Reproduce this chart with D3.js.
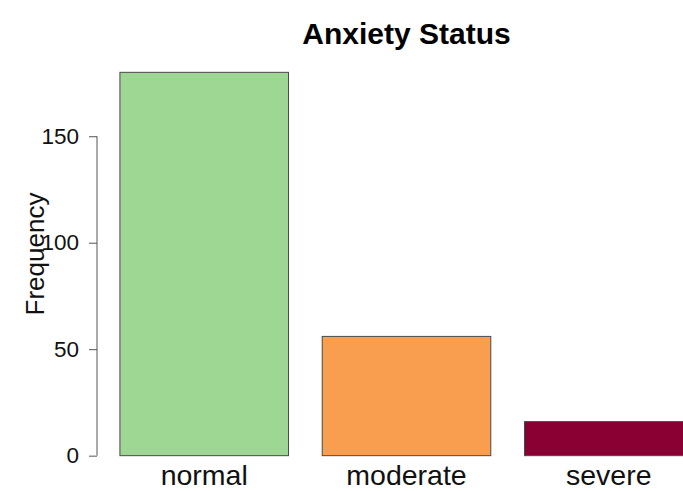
<!DOCTYPE html>
<html>
<head>
<meta charset="utf-8">
<script src="https://cdn.jsdelivr.net/npm/d3@7"></script>
<style>
  html, body { margin: 0; padding: 0; background: #fff; }
  svg { display: block; font-family: "Liberation Sans", Arial, Helvetica, sans-serif; }
</style>
</head>
<body>
<svg id="chart" width="683" height="491"></svg>
<script>
// ---- data ----
const categories = ["normal", "moderate", "severe"];
const frequencies = [180, 56, 16];
const barColors = ["#9dd793", "#f99e4e", "#8a0033"];
const yTickValues = [0, 50, 100, 150];
const chartTitle = "Anxiety Status";
const yLabel = "Frequency";

// ---- layout (R barplot style: width 1, space 0.2) ----
const svg = d3.select("#chart");
const barWidth = 1, space = 0.2;
const lefts = categories.map((c, i) => space + i * (barWidth + space));
const xMin = space, xMax = space + categories.length * (barWidth + space) - space;
const xExt = (xMax - xMin) * 0.04;
const yMaxData = d3.max(frequencies);
const yExt = yMaxData * 0.04;

const plot = { left: 97, right: 716, top: 57, bottom: 471 };

const x = d3.scaleLinear().domain([xMin - xExt, xMax + xExt]).range([plot.left, plot.right]);
const y = d3.scaleLinear().domain([-yExt, yMaxData + yExt]).range([plot.bottom, plot.top]);

// bars
svg.append("g").selectAll("rect")
  .data(categories)
  .join("rect")
  .attr("x", (d, i) => x(lefts[i]))
  .attr("width", (d, i) => x(lefts[i] + barWidth) - x(lefts[i]))
  .attr("y", (d, i) => y(frequencies[i]))
  .attr("height", (d, i) => y(0) - y(frequencies[i]))
  .attr("fill", (d, i) => barColors[i])
  .attr("stroke", "#4a4a4a")
  .attr("stroke-width", 1);

// category labels
svg.append("g").selectAll("text")
  .data(categories)
  .join("text")
  .attr("x", (d, i) => x(lefts[i] + barWidth / 2))
  .attr("y", 485)
  .attr("text-anchor", "middle")
  .attr("font-size", 28.5)
  .attr("fill", "#111")
  .text(d => d);

// y axis
const yAxis = d3.axisLeft(y).tickValues(yTickValues).tickSize(8).tickPadding(10);
const gy = svg.append("g").attr("transform", `translate(${plot.left},0)`).call(yAxis);
gy.select(".domain").remove();
gy.append("line")
  .attr("x1", 0).attr("x2", 0)
  .attr("y1", y(yTickValues[0])).attr("y2", y(yTickValues[yTickValues.length - 1]))
  .attr("stroke", "#555").attr("stroke-width", 1);
gy.selectAll(".tick line").attr("stroke", "#555");
gy.selectAll(".tick text")
  .attr("font-size", 22.5)
  .attr("fill", "#111")
  .attr("font-family", "\"Liberation Sans\", Arial, Helvetica, sans-serif");

// y label
svg.append("text")
  .attr("transform", "translate(43.5,254) rotate(-90)")
  .attr("text-anchor", "middle")
  .attr("font-size", 26)
  .attr("fill", "#111")
  .text(yLabel);

// title
svg.append("text")
  .attr("x", (plot.left + plot.right) / 2)
  .attr("y", 44)
  .attr("text-anchor", "middle")
  .attr("font-size", 30)
  .attr("font-weight", "bold")
  .attr("fill", "#000")
  .text(chartTitle);
</script>
</body>
</html>
